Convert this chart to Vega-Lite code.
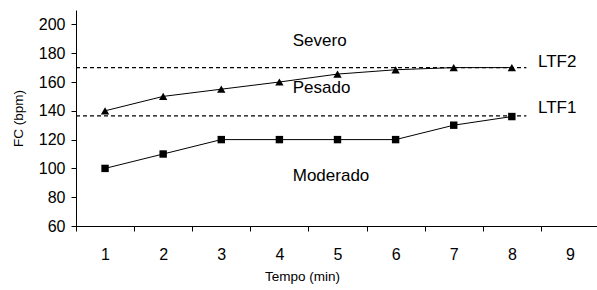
{
  "$schema": "https://vega.github.io/schema/vega-lite/v6.json",
  "width": 523,
  "height": 216,
  "autosize": "none",
  "padding": {"left": 76, "top": 10, "right": 0, "bottom": 64},
  "background": "white",
  "config": {
    "view": {"stroke": null},
    "font": "Liberation Sans",
    "axis": {"grid": false, "domainColor": "black", "tickColor": "black", "labelColor": "black", "titleColor": "black", "labelFont": "Liberation Sans", "titleFont": "Liberation Sans", "titleFontWeight": "normal", "labelFontSize": 16, "titleFontSize": 13.5, "tickSize": 5, "labelOverlap": false, "labelFlush": false}
  },
  "datasets": {
    "series": [
      {"t": 1, "fc": 140, "s": "A"}, {"t": 2, "fc": 150, "s": "A"}, {"t": 3, "fc": 155, "s": "A"}, {"t": 4, "fc": 160, "s": "A"},
      {"t": 5, "fc": 165.5, "s": "A"}, {"t": 6, "fc": 168.5, "s": "A"}, {"t": 7, "fc": 170, "s": "A"}, {"t": 8, "fc": 170, "s": "A"},
      {"t": 1, "fc": 100, "s": "B"}, {"t": 2, "fc": 110, "s": "B"}, {"t": 3, "fc": 120, "s": "B"}, {"t": 4, "fc": 120, "s": "B"},
      {"t": 5, "fc": 120, "s": "B"}, {"t": 6, "fc": 120, "s": "B"}, {"t": 7, "fc": 130, "s": "B"}, {"t": 8, "fc": 136, "s": "B"}
    ],
    "thresholds": [
      {"x1": 0.5, "x2": 8.25, "fc": 170},
      {"x1": 0.5, "x2": 8.25, "fc": 136.5}
    ],
    "notes": [
      {"t": 4.23, "fc": 188.7, "label": "Severo"},
      {"t": 4.23, "fc": 155.6, "label": "Pesado"},
      {"t": 4.23, "fc": 94.9, "label": "Moderado"},
      {"t": 8.45, "fc": 173.7, "label": "LTF2"},
      {"t": 8.45, "fc": 141.7, "label": "LTF1"}
    ]
  },
  "layer": [
    {
      "data": {"name": "thresholds"},
      "mark": {"type": "rule", "color": "black", "strokeWidth": 1.1, "strokeDash": [4, 3]},
      "encoding": {
        "x": {"field": "x1", "type": "quantitative", "scale": {"domain": [0.5, 9.5], "nice": false, "zero": false},
          "axis": {
            "title": "Tempo (min)",
            "values": [0.5, 1, 1.5, 2, 2.5, 3, 3.5, 4, 4.5, 5, 5.5, 6, 6.5, 7, 7.5, 8, 8.5, 9, 9.5],
            "tickCount": 100,
            "labelExpr": "datum.value % 1 === 0 ? format(datum.value, 'd') : ''",
            "tickOpacity": {"condition": {"test": "datum.value % 1 === 0", "value": 0}, "value": 1},
            "labelPadding": 15,
            "titleX": 226,
            "titleY": 50,
            "titleAlign": "center",
            "titleBaseline": "middle"
          }},
        "x2": {"field": "x2"},
        "y": {"field": "fc", "type": "quantitative", "scale": {"domain": [60, 210], "nice": false, "zero": false},
          "axis": {
            "title": "FC (bpm)",
            "values": [60, 80, 100, 120, 140, 160, 180, 200],
            "tickCount": 100,
            "labelPadding": 6,
            "titleAngle": -90,
            "titleX": -58,
            "titleY": 108,
            "titleAlign": "center",
            "titleBaseline": "middle"
          }}
      }
    },
    {
      "data": {"name": "series"},
      "mark": {"type": "line", "color": "black", "strokeWidth": 1},
      "encoding": {
        "x": {"field": "t", "type": "quantitative"},
        "y": {"field": "fc", "type": "quantitative"},
        "detail": {"field": "s"}
      }
    },
    {
      "data": {"name": "series"},
      "mark": {"type": "point", "filled": true, "color": "black", "opacity": 1},
      "encoding": {
        "x": {"field": "t", "type": "quantitative"},
        "y": {"field": "fc", "type": "quantitative"},
        "shape": {"field": "s", "type": "nominal", "scale": {"domain": ["A", "B"], "range": ["triangle-up", "square"]}, "legend": null},
        "size": {"field": "s", "type": "nominal", "scale": {"domain": ["A", "B"], "range": [70, 55]}, "legend": null}
      }
    },
    {
      "data": {"name": "notes"},
      "mark": {"type": "text", "align": "left", "baseline": "middle", "fontSize": 17, "font": "Liberation Sans", "color": "black"},
      "encoding": {
        "x": {"field": "t", "type": "quantitative"},
        "y": {"field": "fc", "type": "quantitative"},
        "text": {"field": "label"}
      }
    }
  ]
}
